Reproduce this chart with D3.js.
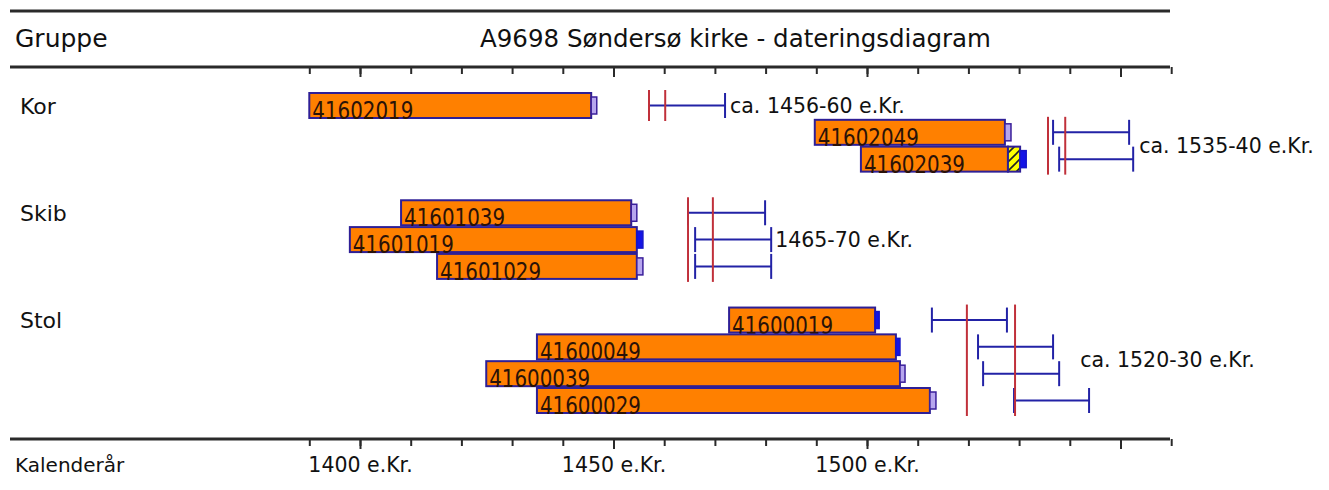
<!DOCTYPE html>
<html><head><meta charset="utf-8">
<script src="https://cdn.jsdelivr.net/npm/d3@7"></script>
<style>body{margin:0;background:#fff}</style>
</head><body>
<svg id="c" width="1329" height="490"></svg>
<script>
// ---------- data ----------
const groups = ["Kor", "Skib", "Stol"];
const sampleIds   = ["41602019","41602049","41602039","41601039","41601019","41601029","41600019","41600049","41600039","41600029"];
const sampleGroup = ["Kor","Kor","Kor","Skib","Skib","Skib","Stol","Stol","Stol","Stol"];
const firstRing   = [1390.0, 1489.7, 1498.8, 1408.1, 1398.0, 1415.2, 1472.8, 1434.9, 1424.9, 1434.9];
const lastRing    = [1445.6, 1527.2, 1527.8, 1453.5, 1454.6, 1454.6, 1501.6, 1505.7, 1506.5, 1512.4];
const hatchEnd    = [null,   null,   1530.2, null,   null,   null,   null,   null,   null,   null];
const sapEnd      = [1446.7, 1528.4, 1531.4, 1454.6, 1455.8, 1455.8, 1502.4, 1506.5, 1507.5, 1513.6];
const capType     = ["open","open","solid","open","solid","open","solid","solid","open","open"];
const fellFrom    = [1457.0, 1536.7, 1537.9, 1464.7, 1466.1, 1466.1, 1512.8, 1521.9, 1522.9, 1529.0];
const fellTo      = [1472.0, 1551.7, 1552.5, 1479.9, 1481.1, 1481.1, 1527.6, 1536.7, 1537.9, 1543.8];

const datingLabels  = ["ca. 1456-60 e.Kr.", "ca. 1535-40 e.Kr.", "1465-70 e.Kr.", "ca. 1520-30 e.Kr."];
const datingFrom    = [1457.0, 1535.7, 1464.7, 1519.7];
const datingTo      = [1460.2, 1539.1, 1469.6, 1529.2];
const datingSamples = [["41602019"], ["41602049","41602039"], ["41601039","41601019","41601029"], ["41600019","41600049","41600039","41600029"]];
const datingLabelRows = [["41602019"], ["41602049","41602039"], ["41601019"], ["41600049","41600039"]];

const tickYears  = d3.range(1390, 1561, 10);
const majorYears = [1400, 1450, 1500, 1550];
const labelYears = [1400, 1450, 1500];
const titleText = "A9698 Søndersø kirke - dateringsdiagram";

// ---------- layout ----------
const svg = d3.select("#c");
const FONT = "'DejaVu Sans', Verdana, sans-serif";
const x = d3.scaleLinear().domain([1400, 1500]).range([360, 867]);
const rowTop = d3.scaleLinear().domain([0, 11]).range([93, 388]);
const barH = 25, capH = 17;
const ORANGE = "#ff8000", BAR_STROKE = "#2e1f96", RED = "#c0303a", BLUE = "#2222a6";

// row indices: groups stacked with a blank row between
const rowOf = {};
let r = 0;
groups.forEach(g => {
  sampleIds.forEach((id, i) => { if (sampleGroup[i] === g) rowOf[id] = r++; });
  r++;
});

const defs = svg.append("defs");
const pat = defs.append("pattern").attr("id", "hatch").attr("patternUnits", "userSpaceOnUse")
  .attr("width", 9).attr("height", 9);
pat.append("rect").attr("width", 9).attr("height", 9).attr("fill", "#ffff00");
pat.append("path").attr("d", "M0,9 L9,0 M-2,2 L2,-2 M7,11 L11,7").attr("stroke", "#222").attr("stroke-width", 1.6);

// ---------- header ----------
const lineX0 = 10, lineX1 = 1170;
svg.append("line").attr("x1", lineX0).attr("x2", lineX1).attr("y1", 11).attr("y2", 11)
  .attr("stroke", "#2a2a2a").attr("stroke-width", 3);
svg.append("text").attr("x", 15).attr("y", 47).attr("font-family", FONT).attr("font-size", 25)
  .attr("fill", "#111").text("Gruppe");
svg.append("text").attr("x", 480).attr("y", 47).attr("font-family", FONT).attr("font-size", 24.5)
  .attr("fill", "#111").text(titleText);

// axes (top & bottom)
function drawAxis(y0, withLabels) {
  svg.append("line").attr("x1", lineX0).attr("x2", lineX1).attr("y1", y0).attr("y2", y0)
    .attr("stroke", "#2a2a2a").attr("stroke-width", 3);
  const gMinor = svg.append("g").attr("transform", `translate(0,${y0})`)
    .call(d3.axisBottom(x).tickValues(tickYears).tickSize(7).tickFormat(""));
  gMinor.select(".domain").remove();
  gMinor.selectAll("line").attr("stroke", "#2a2a2a").attr("stroke-width", 2);
  const gMajor = svg.append("g").attr("transform", `translate(0,${y0})`)
    .call(d3.axisBottom(x).tickValues(majorYears).tickSize(10).tickFormat(""));
  gMajor.select(".domain").remove();
  gMajor.selectAll("line").attr("stroke", "#2a2a2a").attr("stroke-width", 2);
  if (withLabels) {
    const gl = svg.append("g").attr("transform", `translate(0,${y0})`)
      .call(d3.axisBottom(x).tickValues(labelYears).tickSize(0).tickFormat(d => d + " e.Kr."));
    gl.select(".domain").remove();
    gl.selectAll("text").attr("y", 33).attr("dy", 0).attr("font-family", FONT)
      .attr("font-size", 20.5).attr("fill", "#111");
  }
}
drawAxis(67, false);
drawAxis(439, true);
svg.append("text").attr("x", 15).attr("y", 472).attr("font-family", FONT).attr("font-size", 20)
  .attr("fill", "#111").text("Kalenderår");

// group labels
groups.forEach(g => {
  const first = sampleIds.find((id, i) => sampleGroup[i] === g);
  svg.append("text").attr("x", 20).attr("y", rowTop(rowOf[first]) + barH / 2 + 8)
    .attr("font-family", FONT).attr("font-size", 22).attr("fill", "#111").text(g);
});

// ---------- bars ----------
const samples = sampleIds.map((id, i) => ({
  id, row: rowOf[id], first: firstRing[i], last: lastRing[i], hatch: hatchEnd[i],
  sap: sapEnd[i], cap: capType[i], f0: fellFrom[i], f1: fellTo[i]
}));

const gb = svg.append("g");
samples.forEach(s => {
  const yt = rowTop(s.row);
  gb.append("rect").attr("x", x(s.first)).attr("y", yt).attr("width", x(s.last) - x(s.first))
    .attr("height", barH).attr("fill", ORANGE).attr("stroke", BAR_STROKE).attr("stroke-width", 2);
  let capStart = s.last;
  if (s.hatch != null) {
    gb.append("rect").attr("x", x(s.last)).attr("y", yt).attr("width", x(s.hatch) - x(s.last))
      .attr("height", barH).attr("fill", "url(#hatch)").attr("stroke", BAR_STROKE).attr("stroke-width", 2);
    capStart = s.hatch;
  }
  gb.append("rect").attr("x", x(capStart)).attr("y", yt + (barH - capH) / 2)
    .attr("width", x(s.sap) - x(capStart)).attr("height", capH)
    .attr("fill", s.cap === "solid" ? "#1414e6" : "#b7a6ee")
    .attr("stroke", s.cap === "solid" ? "#1616c8" : "#3a1f9a").attr("stroke-width", 1.5);
  gb.append("text").attr("x", x(s.first) + 3).attr("y", yt + barH + 1)
    .attr("font-family", FONT).attr("font-size", 25).attr("fill", "#2a1208")
    .attr("textLength", 101).attr("lengthAdjust", "spacingAndGlyphs").text(s.id);

  // felling range
  const yc = yt + barH / 2;
  gb.append("line").attr("x1", x(s.f0)).attr("x2", x(s.f1)).attr("y1", yc).attr("y2", yc)
    .attr("stroke", BLUE).attr("stroke-width", 2);
  [s.f0, s.f1].forEach(v => gb.append("line").attr("x1", x(v)).attr("x2", x(v))
    .attr("y1", yt).attr("y2", yt + barH).attr("stroke", BLUE).attr("stroke-width", 2));
});

// ---------- datings (red lines + labels) ----------
const labelDx = [5, 6, 4, 21];
datingLabels.forEach((lab, k) => {
  const rows = datingSamples[k].map(id => rowOf[id]);
  const y0 = rowTop(d3.min(rows)) - 3, y1 = rowTop(d3.max(rows)) + barH + 3;
  [datingFrom[k], datingTo[k]].forEach(v => svg.append("line")
    .attr("x1", x(v)).attr("x2", x(v)).attr("y1", y0).attr("y2", y1)
    .attr("stroke", RED).attr("stroke-width", 2));
  const lrows = datingLabelRows[k].map(id => rowOf[id]);
  const ly = (rowTop(d3.min(lrows)) + rowTop(d3.max(lrows)) + barH) / 2;
  const lx = d3.max(datingLabelRows[k], id => x(fellTo[sampleIds.indexOf(id)])) + labelDx[k];
  svg.append("text").attr("x", lx).attr("y", ly + 7).attr("font-family", FONT)
    .attr("font-size", 20.5).attr("fill", "#111").text(lab);
});
</script>
</body></html>
